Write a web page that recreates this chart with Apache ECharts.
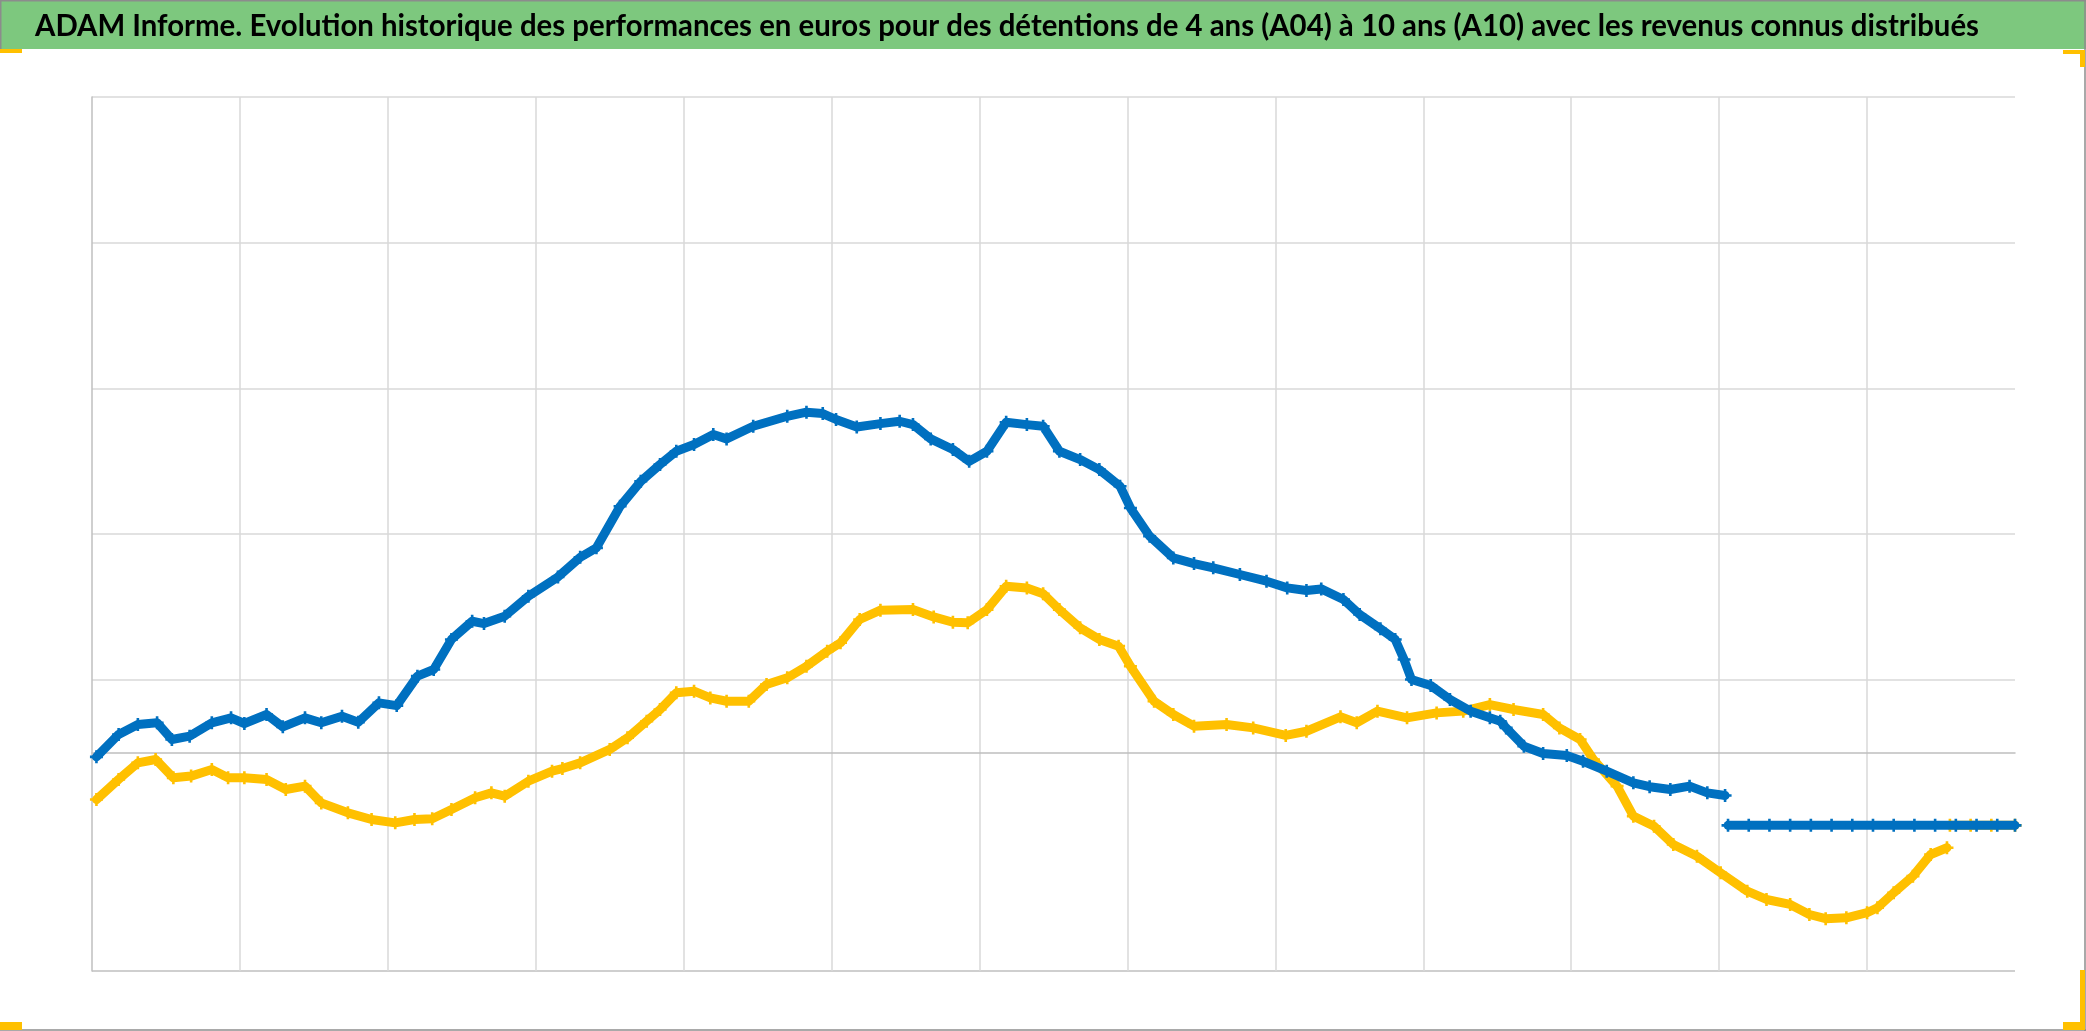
<!DOCTYPE html>
<html>
<head>
<meta charset="utf-8">
<style>
  html, body { margin: 0; padding: 0; background: #ffffff; }
  #chart { width: 2086px; height: 1031px; }
</style>
<script src="https://cdn.jsdelivr.net/npm/echarts@6/dist/echarts.min.js"></script>
</head>
<body>
<div id="chart"></div>
<script>
// ---------- DATA ----------
const titleText = 'ADAM Informe. Evolution historique des performances en euros pour des détentions de 4 ans (A04) à 10 ans (A10) avec les revenus connus distribués';

// x: observation index (0..1300), y: performance in euros
const blueMain = [
  [3,-30],[18,124],[31,192],[44,204],[54,89],[66,112],[81,204],[94,238],[103,199],[118,261],
  [129,176],[144,238],[155,204],[169,249],[180,208],[194,341],[206,322],[220,524],[231,570],
  [243,776],[257,901],[265,885],[279,936],[295,1073],[315,1205],[330,1340],[341,1405],[357,1690],
  [371,1862],[384,1977],[395,2068],[407,2114],[420,2183],[429,2153],[447,2240],[470,2308],
  [483,2336],[494,2327],[503,2286],[517,2235],[533,2258],[546,2274],[555,2251],[567,2153],
  [582,2080],[593,1999],[605,2068],[618,2267],[632,2251],[643,2240],[654,2068],[668,2011],
  [681,1942],[695,1828],[702,1679],[715,1485],[731,1336],[745,1297],[758,1268],[776,1222],
  [794,1176],[808,1130],[821,1112],[831,1123],[846,1050],[857,947],[871,849],[881,776],
  [887,638],[892,501],[905,460],[918,364],[932,284],[945,238],[952,215],[956,169],[968,43],
  [981,-7],[997,-21],[1008,-60],[1024,-128],[1042,-208],[1053,-235],[1067,-254],[1080,-231],
  [1092,-277],[1104,-295]
];
const blueFlat = [
  [1106,-500],[1120,-500],[1134,-500],[1148,-500],[1162,-500],[1176,-500],[1190,-500],
  [1204,-500],[1218,-500],[1232,-500],[1246,-500],[1260,-500],[1274,-500],[1288,-500],[1300,-500]
];
const yellowMain = [
  [3,-323],[18,-185],[31,-71],[43,-48],[55,-174],[67,-162],[81,-117],[92,-174],[103,-174],
  [118,-185],[131,-254],[144,-231],[155,-346],[173,-414],[189,-460],[205,-483],[218,-460],
  [230,-455],[243,-391],[259,-311],[270,-277],[279,-300],[295,-197],[311,-128],[318,-110],
  [330,-71],[350,21],[362,101],[375,215],[384,295],[395,410],[407,421],[418,375],[429,352],
  [444,352],[456,467],[470,513],[483,592],[497,695],[506,753],[519,913],[533,977],[555,981],
  [569,931],[582,894],[592,890],[605,981],[618,1141],[632,1130],[643,1090],[654,981],
  [668,856],[681,776],[694,730],[702,592],[718,352],[731,261],[745,181],[767,192],[785,169],
  [807,117],[821,146],[844,245],[855,204],[869,284],[889,238],[909,272],[927,284],[945,329],
  [961,295],[981,261],[992,169],[1006,89],[1015,-48],[1031,-231],[1042,-437],[1056,-506],
  [1069,-631],[1085,-712],[1101,-826],[1119,-952],[1132,-1009],[1148,-1043],[1161,-1112],
  [1172,-1141],[1186,-1135],[1200,-1100],[1207,-1066],[1218,-963],[1231,-849],[1243,-700],
  [1254,-654]
];
const yellowFlat = [
  [1256,-500],[1270,-500],[1284,-500],[1300,-500]
];

// axis scale
const yMin = -1500, yMax = 4500, yStep = 500;
const xMin = 0, xMax = 1300, xStep = 100;

// ---------- STYLE ----------
const BLUE = '#0070C0';
const YELLOW = '#FFC000';
const GRID = '#d9d9d9';
const AXIS = '#bfbfbf';
const FRAME = '#8c8c8c';
const NONE = 'rgba(0,0,0,0)';
const plus = 'path://M0,4H10V6H0Z M4,0H6V10H4Z';

// only some of the 500-steps carry a visible gridline in the reference
const yLineColors = [AXIS, NONE, NONE, NONE, GRID, NONE, GRID, NONE, GRID, NONE, GRID, NONE, GRID];
const xLineColors = [NONE, GRID, GRID, GRID, GRID, GRID, GRID, GRID, GRID, GRID, GRID, GRID, GRID, NONE];

// title: bold humanist font, horizontally fitted to the reference's text width
const titleFontSize = 31;
const titleFont = 'bold ' + titleFontSize + 'px Lato, "Noto Sans", sans-serif';
const mctx = document.createElement('canvas').getContext('2d');
mctx.font = titleFont;
const titleScaleX = 1944 / mctx.measureText(titleText).width;

function lineSeries(name, data, color, z) {
  return {
    name: name, type: 'line', data: data, z: z,
    showSymbol: true, showAllSymbol: true, symbol: plus, symbolSize: 13,
    itemStyle: { color: color },
    lineStyle: { color: color, width: 9, join: 'round', cap: 'round' },
    animation: false, silent: true
  };
}

function frameLine(x1, y1, x2, y2) {
  return { type: 'line', z: 100, silent: true, shape: { x1: x1, y1: y1, x2: x2, y2: y2 }, style: { stroke: FRAME, lineWidth: 1.5 } };
}

const chart = echarts.init(document.getElementById('chart'), null, { renderer: 'canvas' });
chart.setOption({
  backgroundColor: '#ffffff',
  animation: false,
  graphic: [
    { type: 'rect', z: -10, silent: true, shape: { x: 0, y: 0, width: 2086, height: 49 }, style: { fill: '#7DC87E' } },
    { type: 'text', z: 50, silent: true, x: 35, y: 26, scaleX: titleScaleX,
      style: { text: titleText, font: titleFont, fill: '#000000', x: 0, y: 0, align: 'left', verticalAlign: 'middle' } },
    frameLine(0, 0.75, 2086, 0.75),
    frameLine(0.75, 0, 0.75, 49),
    frameLine(2085, 0, 2085, 1031),
    frameLine(0, 1030, 2086, 1030),
    { type: 'rect', z: 101, silent: true, shape: { x: 0, y: 49, width: 22, height: 4 }, style: { fill: YELLOW } },
    { type: 'rect', z: 101, silent: true, shape: { x: 2063, y: 50, width: 22, height: 4 }, style: { fill: YELLOW } },
    { type: 'rect', z: 101, silent: true, shape: { x: 2080, y: 50, width: 5, height: 17 }, style: { fill: YELLOW } },
    { type: 'rect', z: 101, silent: true, shape: { x: 0, y: 1022, width: 22, height: 8 }, style: { fill: YELLOW } },
    { type: 'rect', z: 101, silent: true, shape: { x: 2063, y: 1022, width: 22, height: 8 }, style: { fill: YELLOW } },
    { type: 'rect', z: 101, silent: true, shape: { x: 2080, y: 970, width: 5, height: 60 }, style: { fill: YELLOW } }
  ],
  grid: { left: 92, right: 71, top: 97, bottom: 60, containLabel: false },
  xAxis: {
    type: 'value', min: xMin, max: xMax, interval: xStep,
    axisLine: { show: true, onZero: true, lineStyle: { color: AXIS, width: 1.5 } },
    axisTick: { show: false }, axisLabel: { show: false },
    splitLine: { show: true, lineStyle: { color: xLineColors, width: 1.5 } }
  },
  yAxis: {
    type: 'value', min: yMin, max: yMax, interval: yStep,
    axisLine: { show: true, lineStyle: { color: AXIS, width: 1.5 } },
    axisTick: { show: false }, axisLabel: { show: false },
    splitLine: { show: true, lineStyle: { color: yLineColors, width: 1.5 } }
  },
  series: [
    lineSeries('A10 revenus (fin)', yellowFlat, YELLOW, 2),
    lineSeries('A10', yellowMain, YELLOW, 3),
    lineSeries('A04', blueMain, BLUE, 4),
    lineSeries('A04 (fin)', blueFlat, BLUE, 4)
  ]
});
</script>
</body>
</html>
